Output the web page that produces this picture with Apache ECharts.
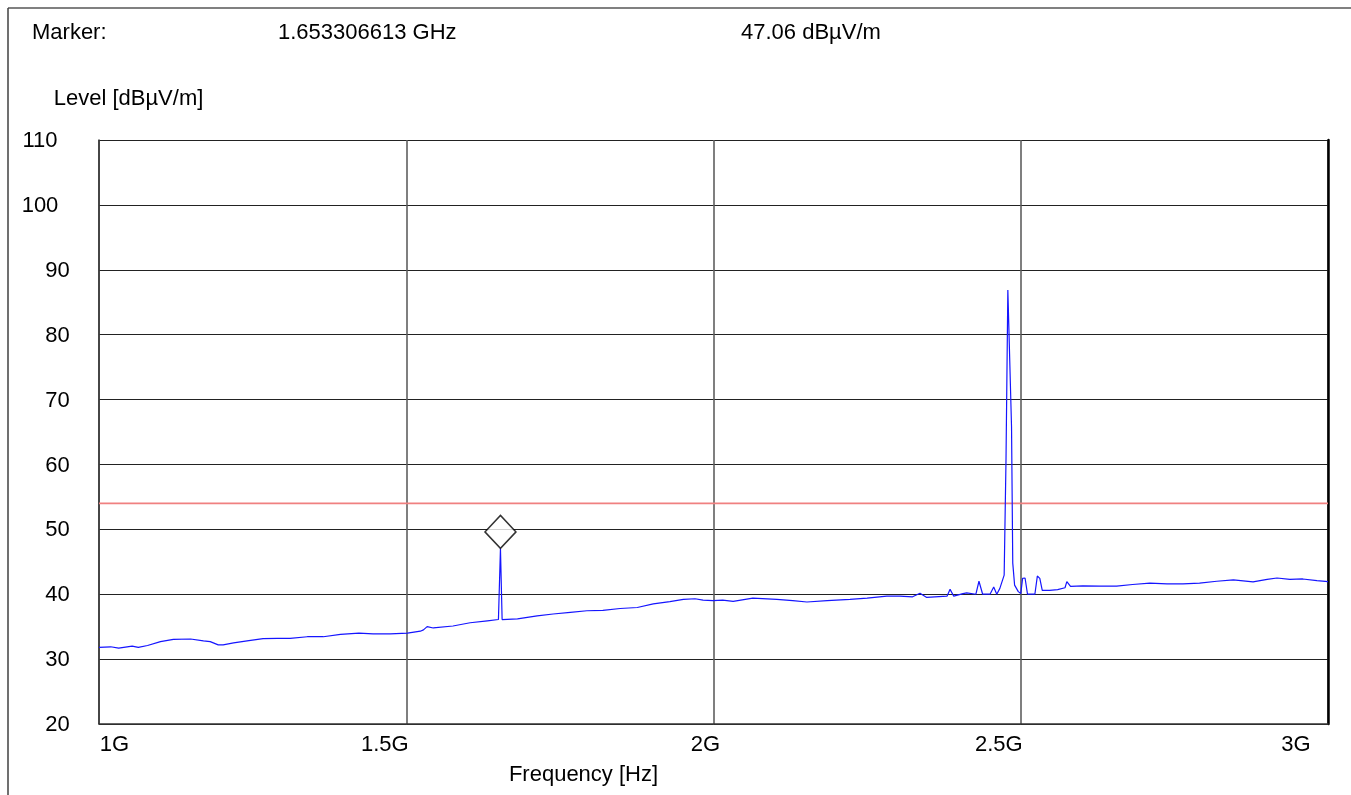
<!DOCTYPE html>
<html>
<head>
<meta charset="utf-8">
<script src="https://cdn.jsdelivr.net/npm/echarts@6/dist/echarts.min.js"></script>
<style>
  html, body { margin: 0; padding: 0; background: #fff; }
  #chart { width: 1351px; height: 795px; }
</style>
</head>
<body>
<div id="chart"></div>
<script>
// Measured emission trace: frequency in MHz, level in dBµV/m
const freqMHz = [
  1000, 1019, 1032, 1054, 1056, 1064, 1079, 1100, 1121, 1149,
  1170, 1181, 1194, 1202, 1219, 1241, 1267, 1290, 1311, 1339,
  1365, 1393, 1423, 1446, 1474, 1502, 1523, 1528, 1534, 1544,
  1576, 1604, 1632, 1650, 1653.306613, 1656, 1681, 1713, 1739, 1767,
  1794, 1820, 1848, 1876, 1902, 1929, 1951, 1970, 1983, 1999,
  2015, 2032, 2064, 2103, 2129, 2152, 2185, 2222, 2250, 2282,
  2303, 2324, 2336, 2347, 2380, 2385, 2391, 2406, 2412, 2427,
  2432, 2438, 2450, 2456, 2461, 2466, 2473, 2476, 2479, 2482,
  2485, 2487, 2490, 2496, 2500, 2503, 2507, 2511, 2523, 2527,
  2531, 2535, 2547, 2560, 2572, 2575, 2581, 2601, 2629, 2656,
  2682, 2710, 2738, 2764, 2791, 2819, 2846, 2878, 2901, 2917,
  2938, 2959, 2982, 3000
];
const levelDb = [
  31.8, 31.9, 31.7, 32.0, 32.2, 31.8, 32.1, 32.7, 33.05, 33.1,
  32.8, 32.7, 32.2, 32.2, 32.5, 32.8, 33.15, 33.2, 33.2, 33.45,
  33.45, 33.8, 34.0, 33.9, 33.9, 34.0, 34.3, 34.5, 35.0, 34.8,
  35.1, 35.6, 35.9, 36.1, 47.06, 36.1, 36.2, 36.65, 36.95, 37.2,
  37.45, 37.5, 37.8, 37.95, 38.5, 38.85, 39.2, 39.3, 39.1, 39.0,
  39.1, 38.9, 39.4, 39.2, 39.0, 38.8, 39.0, 39.2, 39.4, 39.7,
  39.7, 39.6, 40.15, 39.5, 39.7, 40.75, 39.7, 40.1, 40.2, 40.0,
  42.0, 40.0, 40.0, 41.1, 40.0, 40.9, 42.95, 60.7, 86.9, 86.8,
  65.8, 44.8, 41.4, 40.4, 40.1, 42.45, 42.5, 40.0, 40.0, 42.8,
  42.45, 40.6, 40.6, 40.7, 41.0, 41.95, 41.2, 41.3, 41.25, 41.25,
  41.5, 41.7, 41.6, 41.6, 41.7, 42.0, 42.2, 41.9, 42.3, 42.5,
  42.3, 42.35, 42.1, 41.95
];

// Limit line and marker reading
const limitDb = 54;
const limitSpanMHz = [1000, 3000];
const markerMHz = 1653.306613;
const markerDb = 47.06;
const markerFreqText = '1.653306613 GHz';
const markerLevelText = '47.06 dBµV/m';

// Axis ticks
const xTickLabels = ['1G', '1.5G', '2G', '2.5G', '3G'];
const yTickValues = [20, 30, 40, 50, 60, 70, 80, 90, 100, 110];

const FONT = '"Liberation Sans", Arial, Helvetica, sans-serif';
const FS = 22;

const trace = freqMHz.map((f, i) => [f, levelDb[i]]);
const limit = limitSpanMHz.map(f => [f, limitDb]);

// per-label horizontal nudges for frequency tick labels
const xRich = {
  a: { fontSize: FS, fontFamily: FONT, color: '#000', padding: [0, 0, 0, 31] },
  b: { fontSize: FS, fontFamily: FONT, color: '#000', padding: [0, 43, 0, 0] },
  c: { fontSize: FS, fontFamily: FONT, color: '#000', padding: [0, 16, 0, 0] },
  d: { fontSize: FS, fontFamily: FONT, color: '#000', padding: [0, 44, 0, 0] },
  e: { fontSize: FS, fontFamily: FONT, color: '#000', padding: [0, 64, 0, 0] }
};
const xKeys = ['a', 'b', 'c', 'd', 'e'];

const chart = echarts.init(document.getElementById('chart'), null, { renderer: 'canvas' });

chart.setOption({
  backgroundColor: '#fff',
  animation: false,
  textStyle: { fontFamily: FONT },
  grid: { left: 99, top: 140, right: 23, bottom: 71, containLabel: false },
  graphic: [
    { type: 'line', shape: { x1: 8, y1: 8, x2: 1351, y2: 8 }, style: { stroke: '#808080', lineWidth: 2 } },
    { type: 'line', shape: { x1: 8, y1: 8, x2: 8, y2: 795 }, style: { stroke: '#404040', lineWidth: 1.5 } },
    { type: 'text', left: 32, top: 22, style: { text: 'Marker:', font: FS + 'px ' + FONT, fill: '#000' } },
    { type: 'text', left: 278, top: 22, style: { text: markerFreqText, font: FS + 'px ' + FONT, fill: '#000' } },
    { type: 'text', left: 741, top: 22, style: { text: markerLevelText, font: FS + 'px ' + FONT, fill: '#000' } }
  ],
  xAxis: {
    type: 'value',
    min: 1000, max: 3000, interval: 500,
    name: 'Frequency [Hz]',
    nameLocation: 'middle',
    nameGap: 40,
    nameTextStyle: { fontSize: FS, fontFamily: FONT, color: '#000', padding: [0, 260, 0, 0] },
    axisLine: { show: true, lineStyle: { color: '#333', width: 1.5 } },
    axisTick: { show: false },
    axisLabel: {
      margin: 10,
      showMinLabel: true, showMaxLabel: true, hideOverlap: false,
      formatter: v => {
        const i = Math.round((v - 1000) / 500);
        return '{' + xKeys[i] + '|' + xTickLabels[i] + '}';
      },
      rich: xRich
    },
    splitLine: { show: true, lineStyle: { color: '#555', width: 1.5 } }
  },
  yAxis: [
    {
      type: 'value',
      min: yTickValues[0], max: yTickValues[yTickValues.length - 1], interval: 10,
      name: 'Level [dBµV/m]',
      nameLocation: 'end',
      nameGap: 41,
      nameTextStyle: { fontSize: FS, fontFamily: FONT, color: '#000', align: 'center', verticalAlign: 'middle', padding: [0, 0, 0, 59] },
      axisLine: { show: true, lineStyle: { color: '#333', width: 1.5 } },
      axisTick: { show: false },
      axisLabel: {
        margin: 41.5,
        align: 'center',
        showMinLabel: true, showMaxLabel: true,
        formatter: v => (v >= 100 ? '{w|' + v + '}' : '{n|' + v + '}'),
        rich: {
          w: { fontSize: FS, fontFamily: FONT, color: '#000', padding: [2, 35, 0, 0] },
          n: { fontSize: FS, fontFamily: FONT, color: '#000', padding: [2, 0, 0, 0] }
        }
      },
      splitLine: { show: true, lineStyle: { color: '#222', width: 1 } }
    },
    {
      type: 'value',
      position: 'right',
      min: yTickValues[0], max: yTickValues[yTickValues.length - 1], interval: 10,
      axisLine: { show: true, lineStyle: { color: '#000', width: 2.5 } },
      axisTick: { show: false },
      axisLabel: { show: false },
      splitLine: { show: false }
    }
  ],
  series: [
    {
      type: 'line',
      data: limit,
      symbol: 'none',
      silent: true,
      lineStyle: { color: '#f08080', width: 1.8 },
      z: 3
    },
    {
      type: 'line',
      data: trace,
      symbol: 'none',
      silent: true,
      lineStyle: { color: '#1515ff', width: 1.2 },
      z: 4
    },
    {
      type: 'scatter',
      data: [[markerMHz, markerDb]],
      symbol: 'diamond',
      symbolSize: [31, 33],
      symbolOffset: [0, -16.5],
      itemStyle: { color: '#fff', borderColor: '#000', borderWidth: 1.5 },
      silent: true,
      z: 5
    }
  ]
});
</script>
</body>
</html>
